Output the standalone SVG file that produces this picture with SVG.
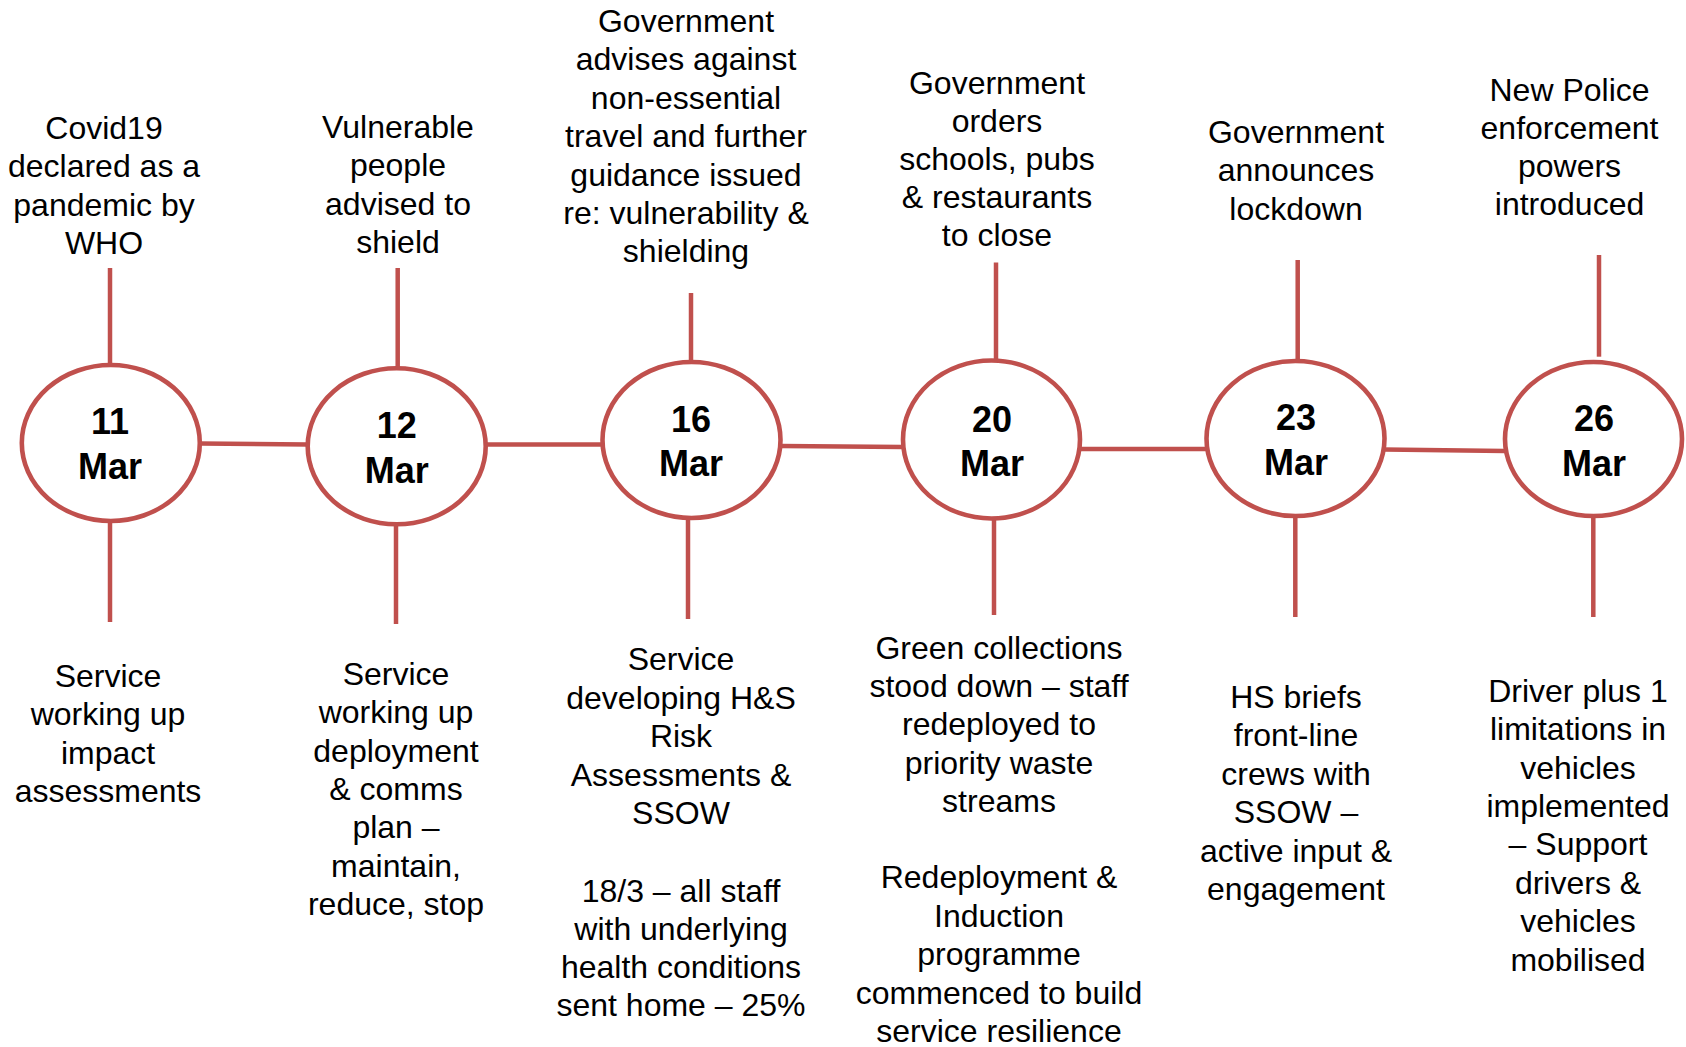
<svg xmlns="http://www.w3.org/2000/svg" width="1686" height="1047" viewBox="0 0 1686 1047">
<style>
.bg{fill:#ffffff}
.conn line{stroke:#C0504D;stroke-width:4.5;fill:none}
.node ellipse{fill:#ffffff;stroke:#C0504D;stroke-width:4.6}
.date{font-family:"Liberation Sans",Arial,sans-serif;font-weight:bold;font-size:36px;text-anchor:middle;fill:#000}
.lbl{font-family:"Liberation Sans",Arial,sans-serif;font-size:32px;text-anchor:middle;fill:#000}
</style>
<rect class="bg" x="0" y="0" width="1686" height="1047"/>
<g id="connectors" class="conn">
<line x1="199" y1="443.4" x2="308" y2="444.6"/>
<line x1="485" y1="444.6" x2="602" y2="444.6"/>
<line x1="781" y1="446" x2="903" y2="447"/>
<line x1="1080" y1="449" x2="1207" y2="449"/>
<line x1="1384" y1="449.5" x2="1505" y2="451"/>
<line x1="110" y1="268" x2="110" y2="366"/>
<line x1="397.7" y1="268" x2="397.7" y2="369"/>
<line x1="691" y1="293" x2="691" y2="363"/>
<line x1="996" y1="262.5" x2="996" y2="361"/>
<line x1="1297.7" y1="260" x2="1297.7" y2="362"/>
<line x1="1599" y1="255" x2="1599" y2="356.7"/>
<line x1="110" y1="520" x2="110" y2="622"/>
<line x1="396" y1="523" x2="396" y2="624"/>
<line x1="688" y1="517" x2="688" y2="619"/>
<line x1="994" y1="517" x2="994" y2="615"/>
<line x1="1295.3" y1="515" x2="1295.3" y2="617"/>
<line x1="1593.3" y1="515" x2="1593.3" y2="617"/>
</g>
<g id="n11" class="node">
<ellipse cx="110.8" cy="443" rx="89" ry="78"/>
<text class="date" x="110" y="434">11<tspan x="110" dy="45">Mar</tspan></text>
<text class="lbl" x="104" y="139">Covid19<tspan x="104" dy="38.3">declared as a</tspan><tspan x="104" dy="38.3">pandemic by</tspan><tspan x="104" dy="38.3">WHO</tspan></text>
<text class="lbl" x="108" y="687">Service<tspan x="108" dy="38.3">working up</tspan><tspan x="108" dy="38.3">impact</tspan><tspan x="108" dy="38.3">assessments</tspan></text>
</g>
<g id="n12" class="node">
<ellipse cx="396.7" cy="446.3" rx="89" ry="78"/>
<text class="date" x="396.7" y="438">12<tspan x="396.7" dy="44.7">Mar</tspan></text>
<text class="lbl" x="398" y="138">Vulnerable<tspan x="398" dy="38.3">people</tspan><tspan x="398" dy="38.3">advised to</tspan><tspan x="398" dy="38.3">shield</tspan></text>
<text class="lbl" x="396" y="685">Service<tspan x="396" dy="38.3">working up</tspan><tspan x="396" dy="38.3">deployment</tspan><tspan x="396" dy="38.3">&amp; comms</tspan><tspan x="396" dy="38.3">plan –</tspan><tspan x="396" dy="38.3">maintain,</tspan><tspan x="396" dy="38.3">reduce, stop</tspan></text>
</g>
<g id="n16" class="node">
<ellipse cx="691.5" cy="440" rx="89" ry="78"/>
<text class="date" x="691" y="432">16<tspan x="691" dy="44">Mar</tspan></text>
<text class="lbl" x="686" y="32">Government<tspan x="686" dy="38.4">advises against</tspan><tspan x="686" dy="38.4">non-essential</tspan><tspan x="686" dy="38.4">travel and further</tspan><tspan x="686" dy="38.4">guidance issued</tspan><tspan x="686" dy="38.4">re: vulnerability &amp;</tspan><tspan x="686" dy="38.4">shielding</tspan></text>
<text class="lbl" x="681" y="670">Service<tspan x="681" dy="38.5">developing H&amp;S</tspan><tspan x="681" dy="38.5">Risk</tspan><tspan x="681" dy="38.5">Assessments &amp;</tspan><tspan x="681" dy="38.5">SSOW</tspan><tspan x="681" dy="77.7">18/3 – all staff</tspan><tspan x="681" dy="38.1">with underlying</tspan><tspan x="681" dy="38.1">health conditions</tspan><tspan x="681" dy="38.1">sent home – 25%</tspan></text>
</g>
<g id="n20" class="node">
<ellipse cx="991.5" cy="439.5" rx="88.5" ry="79"/>
<text class="date" x="992" y="432">20<tspan x="992" dy="44">Mar</tspan></text>
<text class="lbl" x="997" y="93.6">Government<tspan x="997" dy="38.1">orders</tspan><tspan x="997" dy="38.1">schools, pubs</tspan><tspan x="997" dy="38.1">&amp; restaurants</tspan><tspan x="997" dy="38.1">to close</tspan></text>
<text class="lbl" x="999" y="659">Green collections<tspan x="999" dy="38.2">stood down – staff</tspan><tspan x="999" dy="38.2">redeployed to</tspan><tspan x="999" dy="38.2">priority waste</tspan><tspan x="999" dy="38.2">streams</tspan><tspan x="999" dy="76.3">Redeployment &amp;</tspan><tspan x="999" dy="38.5">Induction</tspan><tspan x="999" dy="38.5">programme</tspan><tspan x="999" dy="38.5">commenced to build</tspan><tspan x="999" dy="38.5">service resilience</tspan></text>
</g>
<g id="n23" class="node">
<ellipse cx="1295.5" cy="438.5" rx="89" ry="77.5"/>
<text class="date" x="1296" y="430">23<tspan x="1296" dy="45">Mar</tspan></text>
<text class="lbl" x="1296" y="143">Government<tspan x="1296" dy="38.3">announces</tspan><tspan x="1296" dy="38.3">lockdown</tspan></text>
<text class="lbl" x="1296" y="708">HS briefs<tspan x="1296" dy="38.4">front-line</tspan><tspan x="1296" dy="38.4">crews with</tspan><tspan x="1296" dy="38.4">SSOW –</tspan><tspan x="1296" dy="38.4">active input &amp;</tspan><tspan x="1296" dy="38.4">engagement</tspan></text>
</g>
<g id="n26" class="node">
<ellipse cx="1593.5" cy="439" rx="88.5" ry="77"/>
<text class="date" x="1594" y="430.7">26<tspan x="1594" dy="45.3">Mar</tspan></text>
<text class="lbl" x="1569.5" y="100.5">New Police<tspan x="1569.5" dy="38.3">enforcement</tspan><tspan x="1569.5" dy="38.3">powers</tspan><tspan x="1569.5" dy="38.3">introduced</tspan></text>
<text class="lbl" x="1578" y="701.7">Driver plus 1<tspan x="1578" dy="38.4">limitations in</tspan><tspan x="1578" dy="38.4">vehicles</tspan><tspan x="1578" dy="38.4">implemented</tspan><tspan x="1578" dy="38.4">– Support</tspan><tspan x="1578" dy="38.4">drivers &amp;</tspan><tspan x="1578" dy="38.4">vehicles</tspan><tspan x="1578" dy="38.4">mobilised</tspan></text>
</g>
</svg>
